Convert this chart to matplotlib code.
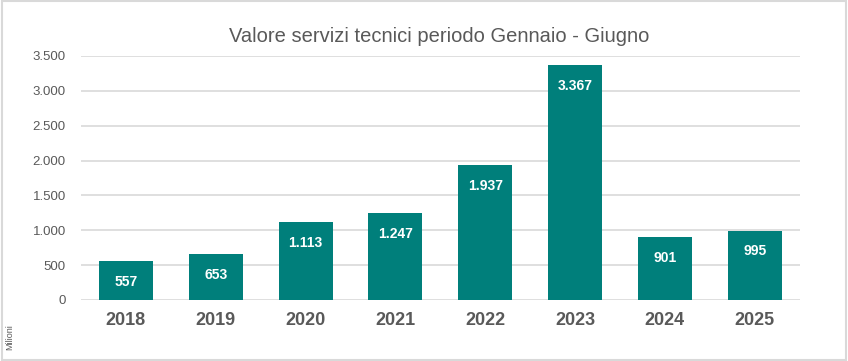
import matplotlib.pyplot as plt
from matplotlib.patches import Rectangle
from matplotlib.ticker import FuncFormatter

plt.rcParams["font.family"] = ["Liberation Sans", "DejaVu Sans"]

years = ["2018", "2019", "2020", "2021", "2022", "2023", "2024", "2025"]
values = [557, 653, 1113, 1247, 1937, 3367, 901, 995]
yticks = [0, 500, 1000, 1500, 2000, 2500, 3000, 3500]

teal = "#007F7B"
grey_txt = "#595959"


def it_fmt(v, pos=None):
    return f"{int(round(v)):,}".replace(",", ".")


fig = plt.figure(figsize=(8.48, 3.61), dpi=100)
ax = fig.add_axes([0.0955, 0.169, 0.8475, 0.676])

x = range(len(years))
bars = ax.bar(x, values, width=0.6, color=teal, zorder=3)

for b, v in zip(bars, values):
    ax.annotate(it_fmt(v), (b.get_x() + b.get_width() / 2, v),
                xytext=(0, -15), textcoords="offset points",
                ha="center", va="center", color="white",
                fontsize=10, fontweight="bold")

ax.set_xlim(-0.5, len(years) - 0.5)
ax.set_ylim(0, 3500)
ax.set_yticks(yticks)
ax.yaxis.set_major_formatter(FuncFormatter(it_fmt))
ax.set_xticks(list(x))
ax.set_xticklabels(years, fontsize=13, fontweight="bold", color=grey_txt)
ax.tick_params(axis="y", length=0, pad=11, labelsize=9.5, labelcolor=grey_txt)
ax.tick_params(axis="x", length=0, pad=9)
ax.grid(axis="y", color="#D9D9D9", linewidth=1.2, zorder=0)
for s in ax.spines.values():
    s.set_visible(False)

fig.text(0.518, 0.9, "Valore servizi tecnici periodo Gennaio - Giugno",
         ha="center", va="center", fontsize=14.5, color=grey_txt)
fig.text(0.012, 0.065, "Milioni", rotation=90, ha="center", va="center",
         fontsize=6.5, color=grey_txt)

fig.patches.append(Rectangle((0.002, 0.004), 0.996, 0.992, transform=fig.transFigure,
                             fill=False, edgecolor="#D9D9D9", linewidth=1.5))

fig.savefig("out.png", dpi=100)
